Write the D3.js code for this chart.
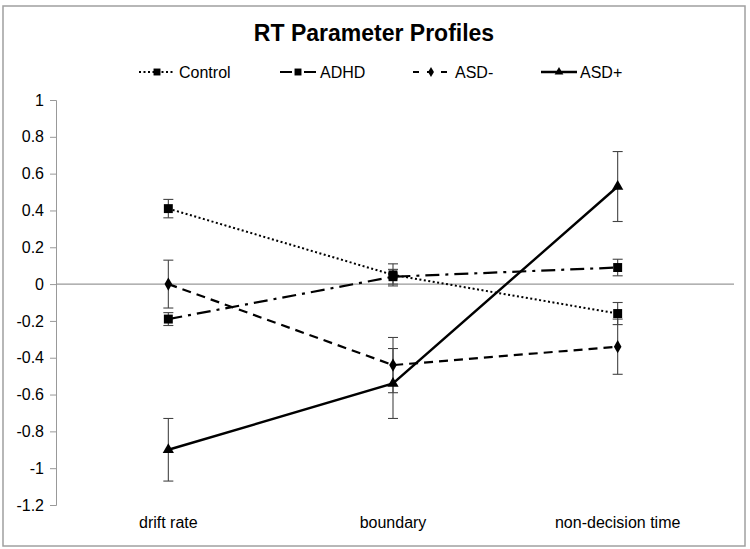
<!DOCTYPE html>
<html>
<head>
<meta charset="utf-8">
<script src="https://cdn.jsdelivr.net/npm/d3@7"></script>
<style>
  body { margin: 0; background: #fff; }
  svg { font-family: "Liberation Sans", Arial, sans-serif; }
</style>
</head>
<body>
<div id="chart"></div>
<script>
// values
var categories = ["drift rate", "boundary", "non-decision time"];
var groups = ["Control", "ADHD", "ASD-", "ASD+"];
var control = [0.41, 0.05, -0.16];
var adhd = [-0.19, 0.04, 0.09];
var asdMinus = [0.0, -0.44, -0.34];
var asdPlus = [-0.90, -0.54, 0.53];
var controlErr = [0.05, 0.06, 0.06];
var adhdErr = [0.035, 0.04, 0.045];
var asdMinusErr = [0.13, 0.15, 0.15];
var asdPlusErr = [0.17, 0.19, 0.19];
var yTicks = [1, 0.8, 0.6, 0.4, 0.2, 0, -0.2, -0.4, -0.6, -0.8, -1, -1.2];

var width = 750, height = 549;
var svg = d3.select("#chart").append("svg")
  .attr("width", width).attr("height", height);

svg.append("rect")
  .attr("x", 3).attr("y", 6).attr("width", 742).attr("height", 540)
  .attr("fill", "none").attr("stroke", "#a0a0a0").attr("stroke-width", 1.5);

var x = d3.scaleBand().domain(categories).range([56, 730]);
var y = d3.scaleLinear().domain([-1.2, 1]).range([505, 100]);

// y axis (plain hyphen for negatives, like the original)
var yAxis = svg.append("g")
  .attr("transform", "translate(56,0)")
  .call(d3.axisLeft(y).tickValues(yTicks).tickSize(6)
    .tickFormat(function(d){ return String(d); }));
yAxis.select(".domain").attr("stroke", "#999");
yAxis.selectAll(".tick line").attr("stroke", "#999");
yAxis.selectAll(".tick text")
  .attr("font-size", 16).attr("fill", "#000").attr("x", -12)
  .attr("font-family", "Liberation Sans, Arial, sans-serif");

// zero line
svg.append("line")
  .attr("x1", 56).attr("x2", 734)
  .attr("y1", y(0)).attr("y2", y(0))
  .attr("stroke", "#999").attr("stroke-width", 1.2);

// category labels
svg.selectAll(".cat").data(categories).enter().append("text")
  .attr("x", function(d){ return x(d) + x.bandwidth() / 2; })
  .attr("y", 528)
  .attr("text-anchor", "middle")
  .attr("font-size", 16)
  .text(function(d){ return d; });

// title
svg.append("text")
  .attr("x", 374).attr("y", 41)
  .attr("text-anchor", "middle")
  .attr("font-size", 23).attr("font-weight", "bold")
  .text("RT Parameter Profiles");

var series = [
  {name: groups[0], vals: control, err: controlErr, dash: "2,2.5", w: 2, sym: d3.symbolSquare, size: 80},
  {name: groups[1], vals: adhd, err: adhdErr, dash: "14,6,3,6", w: 2.2, sym: d3.symbolSquare, size: 80},
  {name: groups[2], vals: asdMinus, err: asdMinusErr, dash: "9,6", w: 2.2, sym: d3.symbolDiamond, size: 50},
  {name: groups[3], vals: asdPlus, err: asdPlusErr, dash: null, w: 2.4, sym: d3.symbolTriangle, size: 55}
];

function cx(i){ return x(categories[i]) + x.bandwidth() / 2; }

var line = d3.line()
  .x(function(d, i){ return cx(i); })
  .y(function(d){ return y(d); });

// error bars
series.forEach(function(s){
  var g = svg.append("g").attr("stroke", "#444").attr("stroke-width", 1.1);
  s.vals.forEach(function(v, i){
    var x0 = cx(i);
    g.append("line").attr("x1", x0).attr("x2", x0)
      .attr("y1", y(v + s.err[i])).attr("y2", y(v - s.err[i]));
    [v + s.err[i], v - s.err[i]].forEach(function(e){
      g.append("line").attr("x1", x0 - 5).attr("x2", x0 + 5)
        .attr("y1", y(e)).attr("y2", y(e));
    });
  });
});

// lines and markers
series.forEach(function(s){
  svg.append("path")
    .datum(s.vals)
    .attr("d", line)
    .attr("fill", "none")
    .attr("stroke", "#000")
    .attr("stroke-width", s.w)
    .attr("stroke-dasharray", s.dash);
  svg.selectAll(null).data(s.vals).enter().append("path")
    .attr("d", d3.symbol().type(s.sym).size(s.size))
    .attr("transform", function(d, i){ return "translate(" + cx(i) + "," + y(d) + ")"; })
    .attr("fill", "#000");
});

// legend
var legendItems = [
  {lx: 139, tx: 179},
  {lx: 280, tx: 320},
  {lx: 413, tx: 455},
  {lx: 541, tx: 580}
];
series.forEach(function(s, i){
  var it = legendItems[i], ly = 72;
  svg.append("line")
    .attr("x1", it.lx).attr("x2", it.lx + 36)
    .attr("y1", ly).attr("y2", ly)
    .attr("stroke", "#000").attr("stroke-width", s.w)
    .attr("stroke-dasharray", i === 1 ? "12,5,2,5" : (i === 2 ? "6,8" : s.dash));
  svg.append("path")
    .attr("d", d3.symbol().type(s.sym).size(s.size * 0.6))
    .attr("transform", "translate(" + (it.lx + 18) + "," + ly + ")")
    .attr("fill", "#000");
  svg.append("text")
    .attr("x", it.tx).attr("y", ly + 6)
    .attr("font-size", 16)
    .text(s.name);
});
</script>
</body>
</html>
